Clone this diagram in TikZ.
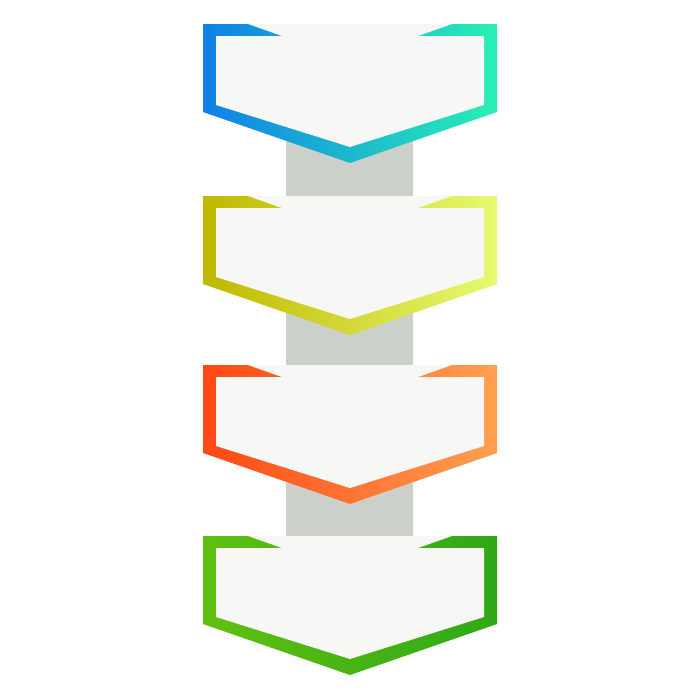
\documentclass[tikz,border=0pt]{standalone}
\begin{document}
\begin{tikzpicture}[x=0.1cm,y=-0.1cm]
\definecolor{fillc}{HTML}{F7F7F5}
\definecolor{barc}{HTML}{CCD0CB}
\definecolor{aL}{HTML}{1080E8}\definecolor{aR}{HTML}{28F0B4}
\definecolor{bL}{HTML}{C0B800}\definecolor{bR}{HTML}{E6FA70}
\definecolor{cL}{HTML}{FF4814}\definecolor{cR}{HTML}{FFA050}
\definecolor{dL}{HTML}{60C010}\definecolor{dR}{HTML}{30A818}
\fill[white] (0,0) rectangle (700,700);
\useasboundingbox (0,0) rectangle (700,700);
% connector bar behind the chevrons
\fill[barc] (286,140) rectangle (413,540);
\foreach \yz/\cl/\cr in {24/aL/aR, 196/bL/bR, 365/cL/cR, 536/dL/dR}{
  \shade[left color=\cl, right color=\cr, shading angle=90]
    (203,\yz) -- (497,\yz) -- (497,\yz+88) -- (350,\yz+139) -- (203,\yz+88) -- cycle;
  \fill[fillc]
    (248,\yz) -- (452,\yz) -- (418,\yz+12) -- (484,\yz+12) -- (484,\yz+81)
    -- (350,\yz+123) -- (216,\yz+81) -- (216,\yz+12) -- (282,\yz+12) -- cycle;
}
\end{tikzpicture}
\end{document}
